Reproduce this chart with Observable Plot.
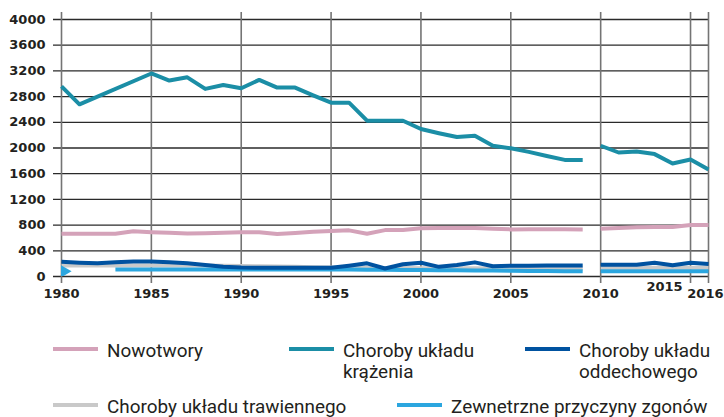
<!DOCTYPE html>
<html><head><meta charset="utf-8">
<script src="https://cdn.jsdelivr.net/npm/d3@7"></script>
<script src="https://cdn.jsdelivr.net/npm/@observablehq/plot@0.6"></script>
<style>
html,body{margin:0;padding:0;background:#fff}
body{width:724px;height:417px;overflow:hidden;position:relative}
#chart{position:absolute;left:0;top:0}
.leg{position:absolute;display:flex;align-items:flex-start;font-family:Roboto,"DejaVu Sans",sans-serif;font-size:18px;line-height:21px;color:#231f20;white-space:nowrap}
.sw{width:45px;height:4px;margin-top:7px;margin-right:9px;flex:none}
.tx{display:inline-block;transform:scaleX(1.05);transform-origin:0 0}
</style></head><body>
<div id="chart"></div>
<div id="legend"></div>
<script>
const years = [1980,1981,1982,1983,1984,1985,1986,1987,1988,1989,1990,1991,1992,1993,1994,1995,1996,1997,1998,1999,2000,2001,2002,2003,2004,2005,2006,2007,2008,2009,2010,2011,2012,2013,2014,2015,2016];

const seriesNames = ["Nowotwory","Choroby układu krążenia","Choroby układu oddechowego","Choroby układu trawiennego","Zewnetrzne przyczyny zgonów"];
const legendLabels = ["Nowotwory","Choroby układu<br>krążenia","Choroby układu<br>oddechowego","Choroby układu trawiennego","Zewnetrzne przyczyny zgonów"];
const seriesColors = ["#d4a2b9","#1b8ea6","#0052a0","#c9c9c9","#2ba6df"];

const nowotwory = [665,665,665,665,705,690,680,668,675,680,688,688,662,678,695,708,718,666,722,725,750,755,755,755,745,733,735,735,735,733,745,755,765,770,770,800,800];
const krazenia = [2960,2680,null,null,null,3160,3050,3100,2920,2980,2930,3060,2940,2940,2820,2705,2705,2425,2425,2425,2295,2230,2170,2190,2035,1995,1940,1875,1815,1815,2035,1930,1945,1905,1760,1820,1665];
const oddechowego = [230,215,205,220,232,232,222,205,180,152,140,137,137,137,137,137,168,205,125,190,215,150,180,220,160,168,168,170,172,172,184,184,184,215,174,215,195];
const trawiennego = [170,170,170,170,170,170,170,170,170,168,165,160,155,150,145,140,138,136,134,132,130,129,128,127,126,125,125,125,125,125,135,135,135,135,135,135,135];
const zewnetrzne = [null,null,null,110,110,110,110,110,110,110,110,110,110,110,110,110,108,106,104,102,100,98,96,94,92,90,87,84,82,80,82,82,82,82,82,82,82];
const zewnetrzneStart = [{year:1980, value:80}];

const seriesValues = [nowotwory,krazenia,oddechowego,trawiennego,zewnetrzne];
const drawOrder = [0,1,3,4,2];

const yTicks = [0,400,800,1200,1600,2000,2400,2800,3200,3600,4000];
const xGrid = [1980,1985,1990,1995,2000,2005,2010,2015,2016];
const xLabels = [1980,1985,1990,1995,2000,2005,2010];
const xLabelsEnd = [2016];
const xLabelsRaised = [2015];
const breakYear = 2010;

const rows = [];
drawOrder.forEach(si => {
  years.forEach((yr, i) => {
    const v = seriesValues[si][i];
    if (v != null) rows.push({series: seriesNames[si], year: yr, value: v, seg: seriesNames[si] + (yr >= breakYear ? "-b" : "-a")});
  });
});

const chart = Plot.plot({
  width: 724, height: 310,
  marginLeft: 61, marginRight: 16, marginTop: 19, marginBottom: 34,
  x: {domain: [1980, 2016], axis: null},
  y: {domain: [0, 4000], axis: null},
  color: {domain: seriesNames, range: seriesColors},
  style: {fontFamily: "DejaVu Sans", fontSize: "13px", fontWeight: "bold", color: "#231f20", background: "transparent", overflow: "visible"},
  marks: [
    Plot.ruleY(yTicks, {stroke: "#2a2a2a", strokeWidth: 1.3, insetLeft: -8}),
    Plot.ruleX(xGrid, {stroke: "#747474", strokeWidth: 1.6, insetTop: -7, insetBottom: -7}),
    Plot.line(rows, {x: "year", y: "value", z: "seg", stroke: "series", strokeWidth: 4, strokeLinecap: "butt", strokeLinejoin: "round"}),
    Plot.dot(zewnetrzneStart, {x: "year", y: "value", symbol: "triangle", rotate: 90, r: 6.5, fill: seriesColors[4], stroke: "none", clip: true}),
    Plot.text(yTicks, {y: d => d, frameAnchor: "left", dx: -16, textAnchor: "end", text: d => String(d), fill: "#231f20"}),
    Plot.text(xLabels, {x: d => d, frameAnchor: "bottom", dy: 21, text: d => String(d), fill: "#231f20"}),
    Plot.text(xLabelsEnd, {x: d => d, frameAnchor: "bottom", dy: 21, dx: 15, textAnchor: "end", text: d => String(d), fill: "#231f20"}),
    Plot.text(xLabelsRaised, {x: d => d, frameAnchor: "bottom", dy: 14, dx: -26, text: d => String(d), fill: "#231f20"})
  ]
});
document.getElementById("chart").appendChild(chart);

const legendLayout = [[53,340],[289,340],[525,340],[53,395.5],[397,395.5]];
const legend = document.getElementById("legend");
seriesNames.forEach((name, i) => {
  const item = document.createElement("div");
  item.className = "leg";
  item.style.left = legendLayout[i][0] + "px";
  item.style.top = legendLayout[i][1] + "px";
  item.innerHTML = `<span class="sw" style="background:${seriesColors[i]}"></span><span class="tx">${legendLabels[i]}</span>`;
  legend.appendChild(item);
});
</script>
</body></html>
